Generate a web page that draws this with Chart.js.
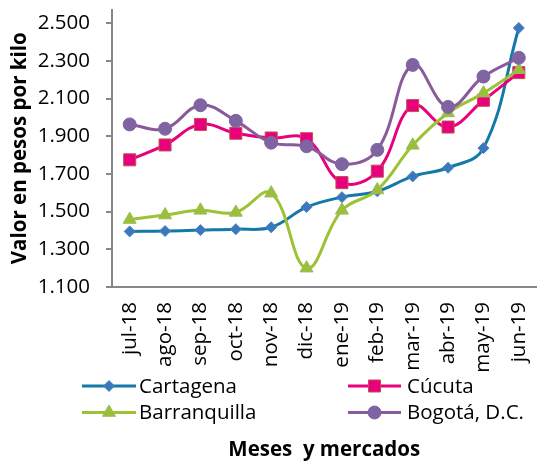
<!DOCTYPE html>
<html>
<head>
<meta charset="utf-8">
<script src="https://cdn.jsdelivr.net/npm/chart.js@4/dist/chart.umd.min.js"></script>
<style>
  html, body { margin: 0; padding: 0; background: #fff; overflow: hidden; }
  #wrap { position: relative; width: 546px; height: 463px; }
</style>
</head>
<body>
<div id="wrap"><canvas id="c" width="546" height="463"></canvas></div>
<script>
const months = ['jul-18','ago-18','sep-18','oct-18','nov-18','dic-18','ene-19','feb-19','mar-19','abr-19','may-19','jun-19'];
const cartagena    = [1395,1397,1402,1407,1417,1524,1577,1608,1687,1733,1837,2475];
const cucuta       = [1775,1854,1963,1916,1891,1887,1654,1715,2063,1949,2091,2238];
const barranquilla = [1458,1482,1507,1496,1598,1200,1507,1615,1852,2024,2129,2253];
const bogota       = [1963,1940,2065,1982,1866,1847,1752,1828,2279,2056,2217,2317];
const yTickValues  = [1100,1300,1500,1700,1900,2100,2300,2500];
const seriesNames  = ['Cartagena','Cúcuta','Barranquilla','Bogotá, D.C.'];
const yTitle = 'Valor en pesos por kilo';
const xTitle = 'Meses  y mercados';

const FONT = "'Open Sans', 'Noto Sans', sans-serif";
const FS = 20.5;
const AXIS = '#878787';

const styles = [
  { line: '#1478A8', fill: '#3A78BE', border: '#4F81BD', shape: 'rectRot', r: 5.5 },
  { line: '#E8007D', fill: '#E8007D', border: '#C0504D', shape: 'rect', r: 8.5 },
  { line: '#9DC236', fill: '#9CBF3A', border: '#9BBB59', shape: 'triangle', r: 7.5 },
  { line: '#8A5A9A', fill: '#8064A2', border: '#8064A2', shape: 'circle', r: 6.5 }
];
const values = [cartagena, cucuta, barranquilla, bogota];
const orders = [4, 3, 2, 1];

const datasets = values.map((v, i) => ({
  label: seriesNames[i],
  data: v,
  borderColor: styles[i].line,
  backgroundColor: styles[i].fill,
  borderWidth: 3,
  tension: 0.4,
  pointStyle: styles[i].shape,
  pointRadius: styles[i].r,
  pointHoverRadius: styles[i].r,
  pointBackgroundColor: styles[i].fill,
  pointBorderColor: styles[i].border,
  pointBorderWidth: 1,
  order: orders[i]
}));

function drawMarker(ctx, shape, x, y, r, fill, border) {
  ctx.save();
  ctx.fillStyle = fill; ctx.strokeStyle = border; ctx.lineWidth = 1;
  ctx.beginPath();
  if (shape === 'circle') {
    ctx.arc(x, y, r, 0, Math.PI * 2);
  } else if (shape === 'rect') {
    const s = r * Math.SQRT1_2;
    ctx.rect(x - s, y - s, 2 * s, 2 * s);
  } else if (shape === 'rectRot') {
    ctx.moveTo(x, y - r); ctx.lineTo(x + r, y); ctx.lineTo(x, y + r); ctx.lineTo(x - r, y); ctx.closePath();
  } else if (shape === 'triangle') {
    ctx.moveTo(x, y - r);
    ctx.lineTo(x + Math.sin(Math.PI * 2 / 3) * r, y + r / 2);
    ctx.lineTo(x - Math.sin(Math.PI * 2 / 3) * r, y + r / 2);
    ctx.closePath();
  }
  ctx.fill(); ctx.stroke();
  ctx.restore();
}

const legendPlugin = {
  id: 'customLegend',
  afterDraw(chart) {
    const ctx = chart.ctx;
    const slots = [
      { x1: 82, x2: 136, tx: 139, y: 386 },
      { x1: 348, x2: 401, tx: 407, y: 386 },
      { x1: 82, x2: 136, tx: 139, y: 412.5 },
      { x1: 348, x2: 401, tx: 407, y: 412.5 }
    ];
    chart.data.datasets.forEach((ds, i) => {
      const s = slots[i], st = styles[i];
      ctx.save();
      ctx.strokeStyle = st.line; ctx.lineWidth = 3;
      ctx.beginPath(); ctx.moveTo(s.x1, s.y); ctx.lineTo(s.x2, s.y); ctx.stroke();
      ctx.restore();
      drawMarker(ctx, st.shape, (s.x1 + s.x2) / 2, s.y, st.r, st.fill, st.border);
      ctx.save();
      ctx.fillStyle = '#000';
      ctx.font = FS + "px " + FONT;
      ctx.textBaseline = 'middle';
      ctx.textAlign = 'left';
      ctx.fillText(ds.label, s.tx, s.y + 1);
      ctx.restore();
    });
  }
};

new Chart(document.getElementById('c'), {
  type: 'line',
  data: { labels: months, datasets },
  options: {
    responsive: false,
    animation: false,
    events: [],
    layout: { padding: { top: 3, right: 1, bottom: 1, left: 0 } },
    plugins: { legend: { display: false }, tooltip: { enabled: false } },
    scales: {
      x: {
        offset: true,
        grid: { display: false, drawTicks: false },
        border: { display: true, color: AXIS, width: 2 },
        ticks: {
          color: '#000', font: { family: FONT, size: FS },
          minRotation: 90, maxRotation: 90, padding: 15, autoSkip: false
        },
        title: { display: true, text: xTitle, color: '#000',
                 font: { family: FONT, size: FS, weight: 'bold' }, padding: { top: 0, bottom: 0 } },
        afterFit(scale) { scale.height = 175; scale.paddingLeft = 0; scale.paddingRight = 0; }
      },
      y: {
        min: 1100, max: 2573,
        grid: { drawOnChartArea: false, drawTicks: true, tickLength: 6, color: AXIS, lineWidth: 2 },
        border: { display: true, color: AXIS, width: 2 },
        afterBuildTicks(scale) { scale.ticks = yTickValues.map(v => ({ value: v })); },
        ticks: {
          color: '#000', font: { family: FONT, size: FS }, padding: 16,
          callback: (v) => v.toLocaleString('de-DE')
        },
        title: { display: true, text: yTitle, color: '#000',
                 font: { family: FONT, size: FS, weight: 'bold' }, padding: { top: 8, bottom: 0 } },
        afterFit(scale) { scale.width = 112; scale.paddingTop = 0; scale.paddingBottom = 0; }
      }
    }
  },
  plugins: [legendPlugin]
});
</script>
</body>
</html>
